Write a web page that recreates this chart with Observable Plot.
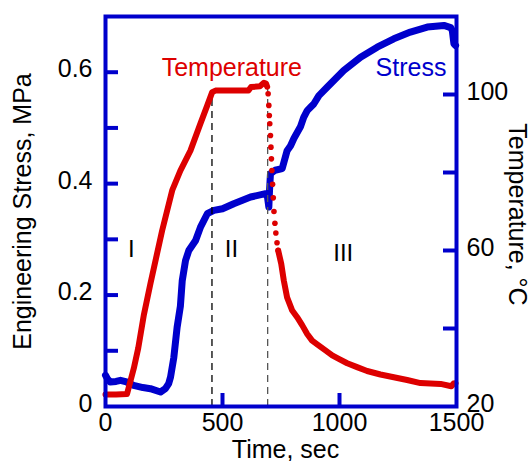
<!DOCTYPE html>
<html><head><meta charset="utf-8">
<script src="https://cdn.jsdelivr.net/npm/d3@7"></script>
<script src="https://cdn.jsdelivr.net/npm/@observablehq/plot@0.6"></script>
<style>
html,body{margin:0;padding:0;background:#fff;}
#chart svg{display:block;}
</style></head><body><div id="chart"></div>
<script>
// ---- data ----
const stressTime = [0, 8, 20, 45, 64, 90, 120, 160, 192, 235, 256, 270, 278, 292, 306, 320, 328, 342, 356, 385, 406, 435, 463, 500, 548, 620, 684, 692, 698, 701, 705, 725, 755, 776, 791, 805, 833, 847, 862, 876, 890, 912, 947, 1018, 1090, 1161, 1232, 1303, 1375, 1446, 1475, 1482, 1489, 1496];
const stressValue = [0.056, 0.050, 0.044, 0.045, 0.047, 0.044, 0.038, 0.034, 0.032, 0.026, 0.032, 0.041, 0.053, 0.088, 0.142, 0.180, 0.226, 0.262, 0.280, 0.298, 0.322, 0.346, 0.352, 0.355, 0.364, 0.376, 0.382, 0.377, 0.358, 0.388, 0.418, 0.424, 0.427, 0.459, 0.468, 0.481, 0.502, 0.519, 0.531, 0.537, 0.543, 0.558, 0.573, 0.603, 0.627, 0.645, 0.660, 0.672, 0.681, 0.684, 0.680, 0.675, 0.651, 0.648];

const heatTime = [0, 45, 92, 121, 140, 164, 192, 242, 285, 320, 363, 406, 435, 456, 470, 611, 622, 660, 677, 686, 691];
const heatTemp = [23.1, 23.1, 23.2, 29.8, 35.0, 43.5, 51.5, 65.1, 75.4, 80.5, 85.6, 92.6, 97.2, 100.6, 101.0, 101.0, 101.9, 102.1, 103.0, 102.8, 102.0];

const dropTime = [695, 698, 700, 702, 705, 707, 709, 711, 714, 717, 720, 724, 728, 733, 738];
const dropTemp = [100.2, 97.2, 94.6, 92.5, 89.5, 86.5, 83.5, 80.5, 77.0, 73.5, 70.0, 67.0, 64.5, 62.0, 60.0];

const coolTime = [738, 751, 762, 776, 798, 819, 841, 862, 883, 912, 940, 969, 997, 1033, 1075, 1118, 1175, 1232, 1289, 1346, 1432, 1478, 1488, 1496];
const coolTemp = [60.0, 56.6, 52.3, 48.0, 44.6, 42.9, 40.8, 38.6, 36.9, 35.6, 34.4, 33.1, 32.2, 31.1, 30.1, 29.1, 28.2, 27.5, 26.8, 26.0, 25.8, 25.2, 25.9, 26.0];

const phaseTime = [455, 693];
const phaseTopTemp = [101, 101.5];
const phaseLabels = ["I", "II", "III"];
const phaseLabelTime = [110, 538, 1016];
const phaseLabelStress = [0.283, 0.282, 0.275];

const seriesLabels = ["Temperature", "Stress"];
const seriesLabelTime = [240, 1154];
const seriesLabelStress = [0.608, 0.607];

const stressTickLabels = [0, 0.2, 0.4, 0.6];
const stressTickMarks = [0.1, 0.2, 0.3, 0.4, 0.5, 0.6];
const tempTickLabels = [20, 60, 100];
const tempTickMarks = [40, 60, 80, 100];
const timeTickLabels = [0, 500, 1000, 1500];
const timeTickMarks = [500, 1000];

// ---- scales ----
const T0 = 20, T1 = 120, S1 = 0.7;
const toS = T => (T - T0) / (T1 - T0) * S1;
const toT = s => T0 + s / S1 * (T1 - T0);

const RED = "#dd0000", BLUE = "#0000cc";
const FONT = "'Liberation Sans', Arial, Helvetica, sans-serif";
const W = 530, H = 461, mL = 105, mR = 74, mT = 16, mB = 55;
const pw = W - mL - mR, ph = H - mT - mB;

const stress = stressTime.map((t, i) => ({t, s: stressValue[i]}));
const heat = heatTime.map((t, i) => ({t, s: toS(heatTemp[i])}));
const drop = dropTime.map((t, i) => ({t, s: toS(dropTemp[i])}));
const cool = coolTime.map((t, i) => ({t, s: toS(coolTemp[i])}));
const phase = phaseTime.map((t, i) => ({t, top: toS(phaseTopTemp[i])}));

const chart = Plot.plot({
  width: W, height: H,
  marginLeft: mL, marginRight: mR, marginTop: mT, marginBottom: mB,
  style: {fontFamily: FONT, fontSize: "25px", color: "#000", background: "#fff", overflow: "visible"},
  x: {domain: [0, 1500]},
  y: {domain: [0, S1]},
  marks: [
    Plot.line(stress, {x: "t", y: "s", stroke: BLUE, strokeWidth: 7, strokeLinejoin: "round", strokeLinecap: "round"}),
    Plot.ruleX(phase, {x: "t", y1: 0, y2: "top", stroke: (d, i) => i === 0 ? "#000" : "#555", strokeDasharray: "7,5", strokeWidth: 1.3}),
    Plot.line(heat, {x: "t", y: "s", stroke: RED, strokeWidth: 6, strokeLinejoin: "round", strokeLinecap: "round"}),
    Plot.dot(drop, {x: "t", y: "s", r: 2.8, fill: RED, stroke: "none"}),
    Plot.line(cool, {x: "t", y: "s", stroke: RED, strokeWidth: 6, strokeLinejoin: "round", strokeLinecap: "round"}),
    Plot.frame({stroke: BLUE, strokeWidth: 4}),
    Plot.tickY(stressTickMarks, {y: d => d, insetRight: pw - 13, stroke: BLUE, strokeWidth: 4}),
    Plot.tickY(tempTickMarks, {y: d => toS(d), insetLeft: pw - 13, stroke: BLUE, strokeWidth: 4}),
    Plot.tickX(timeTickMarks, {x: d => d, insetTop: ph - 13, stroke: BLUE, strokeWidth: 4}),
    Plot.axisY({ticks: stressTickLabels, tickSize: 0, tickPadding: 13, label: null, dy: -3,
      tickFormat: d => d === 0 ? "0" : d.toFixed(1), fontSize: 25, fontFamily: FONT, fill: "#000"}),
    Plot.axisY({anchor: "right", ticks: tempTickLabels.map(toS), tickSize: 0, tickPadding: 10, label: null, dy: -3,
      tickFormat: s => String(Math.round(toT(s))), fontSize: 25, fontFamily: FONT, fill: "#000"}),
    Plot.axisX({ticks: timeTickLabels, tickSize: 0, tickPadding: 7, label: null,
      tickFormat: d => String(d), fontSize: 25, fontFamily: FONT, fill: "#000"}),
    Plot.text(phaseLabels, {x: phaseLabelTime, y: phaseLabelStress, text: d => d, fontSize: 24, fontFamily: FONT, fill: "#000"}),
    Plot.text(seriesLabels, {x: seriesLabelTime, y: seriesLabelStress, text: d => d, textAnchor: "start",
      fill: (d, i) => i === 0 ? RED : BLUE, fontSize: 25, fontFamily: FONT}),
    Plot.text(["Engineering Stress, MPa"], {frameAnchor: "left", rotate: -90, dx: -82.5, text: d => d,
      textAnchor: "middle", lineAnchor: "middle", fontSize: 25, fontFamily: FONT, fill: "#000"}),
    Plot.text(["Temperature, °C"], {frameAnchor: "right", rotate: 90, dx: 60.5, dy: 3, text: d => d,
      textAnchor: "middle", lineAnchor: "middle", fontSize: 25, fontFamily: FONT, fill: "#000"}),
    Plot.text(["Time, sec"], {frameAnchor: "bottom", dy: 43, dx: 4.5, text: d => d,
      textAnchor: "middle", lineAnchor: "middle", fontSize: 25, fontFamily: FONT, fill: "#000"})
  ]
});
document.getElementById("chart").appendChild(chart);
</script>
</body></html>
